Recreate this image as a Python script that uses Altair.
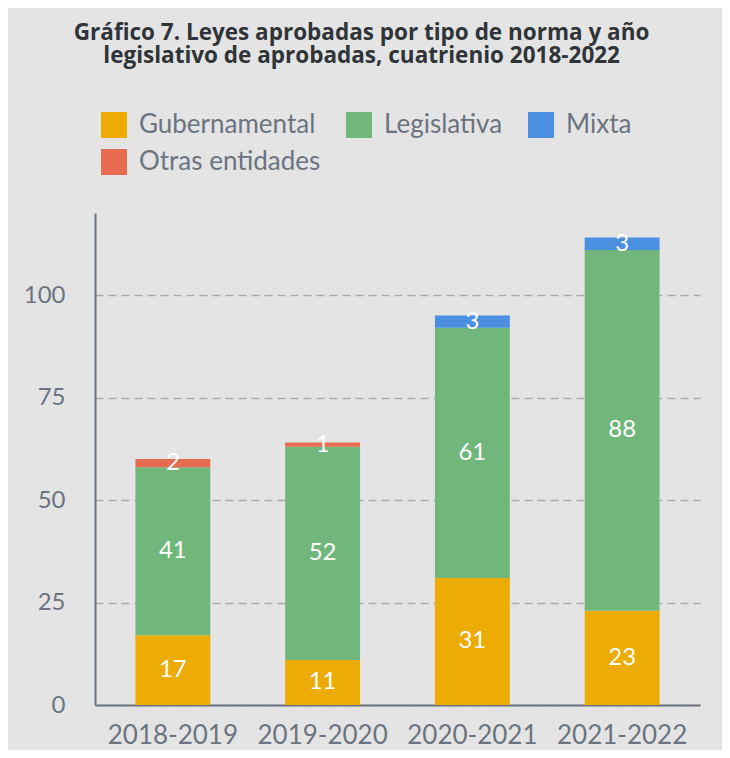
import altair as alt
import pandas as pd

years = ["2018-2019", "2019-2020", "2020-2021", "2021-2022"]
types = ["Gubernamental", "Legislativa", "Mixta", "Otras entidades"]
colors = ["#ecac05", "#71b77b", "#4a8fe0", "#e76b4e"]

gubernamental = [17, 11, 31, 23]
legislativa = [41, 52, 61, 88]
mixta = [0, 0, 3, 3]
otras = [2, 1, 0, 0]

rows = []
for i, y in enumerate(years):
    for k, (t, vals) in enumerate(zip(types, [gubernamental, legislativa, mixta, otras])):
        if vals[i] > 0:
            rows.append({"year": y, "tipo": t, "value": vals[i], "orden": k})
df = pd.DataFrame(rows)

label_color = "#6b7480"
FONT = "Lato"

base = alt.Chart(df).transform_stack(
    stack="value", groupby=["year"], sort=[alt.SortField("orden", order="ascending")],
    as_=["y0", "y1"]
).transform_calculate(mid="(datum.y0 + datum.y1) / 2")

x_enc = alt.X(
    "year:N", sort=years, title=None,
    scale=alt.Scale(paddingInner=0.5, paddingOuter=0.27),
    axis=alt.Axis(labelAngle=0, labelFontSize=26, labelColor=label_color, labelFont=FONT,
                  labelPadding=17, ticks=False, domainColor=label_color, domainWidth=2),
)

bars = base.mark_bar().encode(
    x=x_enc,
    y=alt.Y("y0:Q", title=None,
            scale=alt.Scale(domain=[0, 120], nice=False),
            axis=alt.Axis(values=[0, 25, 50, 75, 100], labelFontSize=24, labelColor=label_color,
                          labelFont=FONT, labelPadding=30, ticks=False, domainColor=label_color,
                          domainWidth=2, grid=True, gridDash=[8, 5], gridColor="#a9abae",
                          gridWidth=1.5)),
    y2="y1:Q",
    color=alt.Color("tipo:N", sort=types,
                    scale=alt.Scale(domain=types, range=colors),
                    legend=alt.Legend(title=None, orient="none", legendX=6, legendY=-101,
                                      direction="horizontal", columns=3, columnPadding=25,
                                      rowPadding=11, symbolType="square", symbolSize=676,
                                      symbolStrokeWidth=0, labelFontSize=26, labelFont=FONT,
                                      labelColor=label_color, labelOffset=12, labelLimit=0)),
)

labels = base.mark_text(color="white", fontSize=24, font=FONT, baseline="middle").encode(
    x=alt.X("year:N", sort=years),
    y=alt.Y("mid:Q"),
    text=alt.Text("value:Q"),
)

chart = alt.layer(bars, labels).properties(
    width=605, height=492,
    autosize=alt.AutoSizeParams(type="none"),
    padding={"left": 87, "top": 205, "right": 22, "bottom": 45},
    background="#e4e4e4",
    title=alt.TitleParams(
        text=["Gráfico 7. Leyes aprobadas por tipo de norma y año",
              "legislativo de aprobadas, cuatrienio 2018-2022"],
        fontSize=22.5, font="Open Sans", fontWeight="bold", color="#2f3439",
        anchor="middle", frame="bounds", lineHeight=23, offset=45,
    ),
).configure_view(stroke=None)

chart.save("out.html", embed_options={"renderer": "svg", "actions": False})
